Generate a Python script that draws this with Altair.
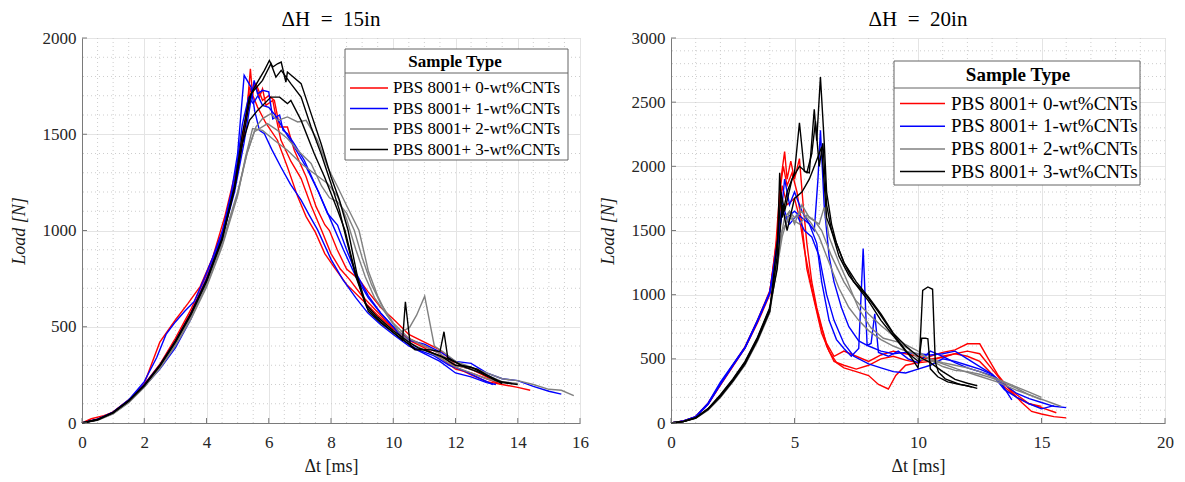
import altair as alt
import pandas as pd

FONT = "Liberation Serif"
SAMPLES = ["PBS 8001+ 0-wt%CNTs", "PBS 8001+ 1-wt%CNTs",
           "PBS 8001+ 2-wt%CNTs", "PBS 8001+ 3-wt%CNTs"]
COLORS = ["#ff0000", "#0000ff", "#808080", "#000000"]

# ---------------- Left panel (dH = 15 in) ----------------
L_R1_T = [0, 0.3, 0.7, 1.0, 1.5, 2.0, 2.5, 3.0, 3.4, 3.8, 4.2, 4.6, 5.0, 5.3, 5.41, 5.48, 5.55, 5.7, 5.8, 5.91,
          6.13, 6.23, 6.39, 6.71, 7.04, 7.36, 7.7, 8.0, 8.3, 8.6, 9.0, 9.5, 10.0, 10.5, 11.0, 11.5, 12.0, 12.5,
          13.0, 13.5, 14.0, 14.4]
L_R1_Y = [0, 22, 38, 55, 118, 205, 420, 535, 620, 710, 860, 1080, 1350, 1620, 1840, 1700, 1763, 1693, 1736, 1650,
          1676, 1590, 1470, 1360, 1270, 1130, 1000, 880, 800, 745, 660, 575, 490, 430, 390, 340, 280, 260,
          230, 200, 185, 170]
L_R2_T = [0, 0.5, 1.0, 1.5, 2.0, 2.5, 3.0, 3.5, 4.0, 4.5, 4.9, 5.2, 5.4, 5.59, 5.8, 6.0, 6.18, 6.35, 6.6, 6.82,
          7.2, 7.52, 7.8, 7.95, 8.2, 8.5, 8.9, 9.2, 9.6, 10.0, 10.5, 11.0, 11.5, 12.0, 12.5, 13.0, 13.3]
L_R2_Y = [0, 20, 58, 120, 200, 305, 440, 590, 770, 990, 1250, 1500, 1720, 1763, 1676, 1700, 1676, 1538, 1538, 1417,
          1279, 1124, 1030, 1000, 900, 800, 745, 680, 600, 540, 460, 420, 380, 300, 280, 240, 210]
L_R3_T = [0, 0.5, 1.0, 1.5, 2.0, 2.5, 3.0, 3.5, 4.0, 4.5, 4.9, 5.2, 5.38, 5.64, 5.9, 6.28, 6.6, 6.93, 7.2, 7.5,
          7.8, 8.1, 8.5, 9.0, 9.5, 10.0, 10.5, 11.0, 11.5, 12.0, 12.5, 13.0, 13.5]
L_R3_Y = [0, 18, 56, 118, 198, 300, 430, 575, 750, 970, 1230, 1500, 1745, 1641, 1560, 1469, 1330, 1176, 1072, 990,
          880, 810, 720, 640, 560, 490, 440, 400, 360, 290, 250, 215, 200]
L_B1_T = [0, 0.5, 1.0, 1.5, 2.0, 2.4, 2.7, 3.0, 3.3, 3.6, 3.9, 4.2, 4.52, 4.8, 5.0, 5.21, 5.43, 5.55, 5.7, 5.86,
          6.1, 6.39, 6.7, 7.04, 7.3, 7.57, 8.0, 8.38, 8.8, 9.18, 9.6, 10.0, 10.5, 11.0, 11.5, 12.0, 12.5, 13.0, 13.3]
L_B1_Y = [0, 20, 55, 120, 215, 340, 460, 525, 580, 630, 740, 860, 1003, 1200, 1400, 1806, 1745, 1620, 1520, 1503,
          1420, 1330, 1240, 1158, 1080, 1003, 850, 745, 650, 572, 510, 460, 400, 360, 320, 260, 240, 210, 200]
L_B2_T = [0, 0.5, 1.0, 1.5, 2.0, 2.5, 3.0, 3.5, 4.0, 4.5, 4.9, 5.2, 5.4, 5.53, 5.64, 5.8, 6.0, 6.13, 6.35, 6.46,
          6.6, 6.82, 7.14, 7.57, 7.89, 8.21, 8.5, 8.8, 9.2, 9.6, 10.0, 10.5, 11.0, 11.5, 12.0, 12.5, 13.0, 13.5,
          14.0, 14.5, 15.0, 15.4]
L_B2_Y = [0, 18, 55, 115, 190, 280, 390, 540, 730, 960, 1200, 1450, 1650, 1780, 1710, 1728, 1720, 1580, 1600, 1520,
          1503, 1450, 1365, 1210, 1088, 1028, 900, 780, 660, 570, 500, 430, 410, 370, 320, 310, 260, 230,
          220, 190, 165, 150]
L_B3_T = [0, 0.5, 1.0, 1.5, 2.0, 2.5, 3.0, 3.5, 4.0, 4.5, 4.9, 5.15, 5.35, 5.5, 5.65, 5.8, 6.0, 6.2, 6.5, 6.8,
          7.2, 7.6, 8.0, 8.4, 8.8, 9.2, 9.6, 10.0, 10.4, 10.8, 11.3, 11.8, 12.3, 12.8, 13.2]
L_B3_Y = [0, 18, 57, 118, 200, 300, 425, 570, 750, 975, 1250, 1550, 1690, 1660, 1700, 1650, 1640, 1600, 1520, 1440,
          1330, 1200, 1050, 900, 760, 650, 570, 500, 420, 380, 350, 300, 270, 230, 200]
L_G1_T = [0, 0.5, 1.0, 1.5, 2.0, 2.5, 3.0, 3.5, 4.0, 4.5, 5.0, 5.3, 5.59, 5.8, 6.07, 6.28, 6.6, 6.93, 7.2, 7.57,
          7.89, 8.21, 8.5, 8.9, 9.2, 9.5, 9.8, 10.2, 10.52, 10.75, 11.01, 11.32, 11.6, 12.0, 12.5, 13.0, 13.5,
          14.0, 14.5, 15.0, 15.4, 15.8]
L_G1_Y = [0, 15, 50, 110, 190, 290, 410, 555, 725, 935, 1200, 1400, 1538, 1581, 1607, 1572, 1590, 1564, 1572, 1469,
          1330, 1227, 1130, 1000, 790, 660, 560, 470, 495, 560, 659, 400, 370, 320, 290, 260, 230,
          220, 200, 175, 170, 142]
L_G2_T = [0, 0.5, 1.0, 1.5, 2.0, 2.5, 3.0, 3.5, 4.0, 4.5, 5.0, 5.3, 5.53, 5.96, 6.28, 6.6, 6.93, 7.36, 7.7, 7.95,
          8.2, 8.5, 8.75, 9.0, 9.3, 9.6, 10.0, 10.5, 11.0, 11.5, 12.0, 12.5, 13.0, 13.5, 14.0]
L_G2_Y = [0, 15, 50, 108, 188, 288, 405, 548, 715, 925, 1190, 1400, 1512, 1555, 1520, 1478, 1417, 1348, 1230, 1170,
          1150, 1090, 1000, 860, 720, 620, 520, 440, 400, 360, 300, 280, 250, 215, 205]
L_G3_T = [0, 0.5, 1.0, 1.5, 2.0, 2.5, 3.0, 3.5, 4.0, 4.5, 5.0, 5.25, 5.48, 5.8, 6.18, 6.6, 7.04, 7.46, 7.89, 8.2,
          8.5, 8.8, 9.1, 9.4, 9.8, 10.2, 10.6, 11.0, 11.5, 12.0, 12.5, 13.0, 13.5]
L_G3_Y = [0, 14, 48, 105, 185, 283, 400, 540, 705, 915, 1180, 1380, 1530, 1520, 1469, 1417, 1348, 1296, 1244, 1180,
          1060, 900, 760, 650, 560, 470, 410, 380, 340, 290, 260, 230, 210]
L_K1_T = [0, 0.5, 1.0, 1.5, 2.0, 2.5, 3.0, 3.5, 4.0, 4.5, 4.9, 5.15, 5.38, 5.6, 5.86, 6.02, 6.13, 6.28, 6.4, 6.55,
          6.6, 7.04, 7.36, 7.68, 8.0, 8.27, 8.55, 8.85, 9.2, 9.6, 10.0, 10.3, 10.39, 10.55, 10.7, 11.0, 11.5,
          12.0, 12.5, 13.0, 13.5, 14.0]
L_K1_Y = [0, 18, 55, 116, 196, 300, 425, 570, 742, 960, 1230, 1500, 1693, 1760, 1832, 1883, 1849, 1866, 1875, 1771,
          1823, 1763, 1607, 1452, 1279, 1158, 1000, 760, 580, 520, 470, 430, 630, 400, 380, 380, 350,
          300, 290, 250, 210, 200]
L_K2_T = [0, 0.5, 1.0, 1.5, 2.0, 2.5, 3.0, 3.5, 4.0, 4.5, 4.9, 5.2, 5.43, 5.8, 6.07, 6.23, 6.4, 6.71, 7.04, 7.36,
          7.68, 8.0, 8.27, 8.5, 8.8, 9.15, 9.5, 10.0, 10.5, 10.7, 11.2, 11.5, 11.63, 11.75, 12.2, 12.7, 13.2, 13.5]
L_K2_Y = [0, 17, 54, 115, 195, 298, 422, 566, 738, 955, 1220, 1500, 1710, 1780, 1866, 1797, 1832, 1763, 1693, 1538,
          1400, 1244, 1106, 950, 760, 600, 540, 470, 410, 385, 380, 370, 474, 340, 300, 280, 230, 205]
L_K3_T = [0, 0.5, 1.0, 1.5, 2.0, 2.5, 3.0, 3.5, 4.0, 4.5, 4.9, 5.15, 5.38, 5.64, 6.07, 6.35, 6.6, 6.71, 7.04, 7.46,
          7.79, 8.21, 8.45, 8.75, 9.1, 9.5, 10.0, 10.5, 10.8, 11.3, 11.8, 12.3, 12.8, 13.3, 13.8]
L_K3_Y = [0, 17, 53, 113, 193, 296, 420, 563, 735, 950, 1215, 1450, 1572, 1624, 1693, 1693, 1659, 1676, 1572, 1400,
          1279, 1106, 1000, 800, 620, 550, 480, 420, 390, 360, 330, 290, 260, 220, 205]

# ---------------- Right panel (dH = 20 in) ----------------
R_R1_T = [0, 0.5, 1.0, 1.5, 2.0, 2.5, 3.0, 3.5, 4.0, 4.3, 4.45, 4.6, 4.7, 4.85, 5.0, 5.2, 5.35, 5.5, 5.7,
          5.9, 6.1, 6.3, 6.6, 7.0, 7.5, 8.0, 8.5, 9.0, 9.5, 10.0, 10.5, 11.0, 11.5, 12.0, 12.5, 13.0, 13.5, 14.0,
          14.5, 15.0, 15.6]
R_R1_Y = [0, 15, 48, 150, 300, 445, 590, 790, 1020, 1450, 1900, 2115, 1900, 2040, 1900, 2060, 1700, 1400, 1100,
          900, 750, 600, 480, 450, 420, 450, 500, 520, 490, 470, 480, 520, 540, 560, 540, 420, 300, 220,
          150, 120, 80]
R_R2_T = [0, 0.5, 1.0, 1.5, 2.0, 2.5, 3.0, 3.5, 4.0, 4.25, 4.4, 4.55, 4.7, 4.9, 5.1, 5.3, 5.5, 5.8, 6.1,
          6.4, 6.7, 7.0, 7.5, 8.0, 8.4, 8.8, 9.1, 9.5, 10.0, 10.5, 11.0, 11.5, 12.0, 12.5, 12.85, 13.25, 13.8,
          14.2, 14.6, 15.0, 15.5, 16.0]
R_R2_Y = [0, 14, 46, 145, 295, 440, 585, 780, 1000, 1400, 1800, 2000, 1850, 1950, 1800, 1550, 1200, 950, 700,
          560, 470, 430, 400, 370, 300, 265, 370, 450, 470, 520, 550, 570, 617, 617, 500, 370, 240,
          160, 90, 70, 50, 40]
R_R3_T = [0, 0.5, 1.0, 1.5, 2.0, 2.5, 3.0, 3.5, 4.0, 4.3, 4.5, 4.7, 5.0, 5.2, 5.4, 5.7, 6.0, 6.3, 6.6,
          7.0, 7.5, 8.0, 8.5, 9.0, 9.5, 10.0, 10.5, 11.0, 11.5, 12.0, 12.5, 13.0, 13.5, 14.0, 14.5, 15.0]
R_R3_Y = [0, 16, 50, 155, 305, 450, 595, 800, 1030, 1400, 1850, 1700, 1750, 1600, 1350, 1050, 800, 620, 520,
          560, 520, 480, 530, 560, 540, 520, 500, 510, 540, 520, 480, 380, 280, 200, 150, 130]
R_B1_T = [0, 0.5, 1.0, 1.5, 2.0, 2.5, 3.0, 3.5, 4.0, 4.3, 4.5, 4.7, 5.0, 5.3, 5.6, 5.8, 5.95, 6.05, 6.2,
          6.4, 6.6, 6.9, 7.2, 7.6, 8.0, 8.5, 9.0, 9.5, 10.0, 10.5, 11.0, 11.5, 12.0, 12.5, 13.0, 13.5, 14.0,
          14.5, 15.0, 15.5, 16.0]
R_B1_Y = [0, 16, 50, 155, 318, 455, 591, 800, 1020, 1400, 1700, 1600, 1650, 1600, 1550, 1500, 1900, 2280, 1700,
          1300, 1100, 900, 750, 640, 600, 560, 540, 550, 540, 530, 540, 560, 500, 440, 380, 300, 230,
          190, 160, 130, 120]
R_B2_T = [0, 0.5, 1.0, 1.5, 2.0, 2.5, 3.0, 3.5, 4.0, 4.4, 4.6, 4.8, 5.0, 5.3, 5.6, 5.9, 6.1, 6.4, 6.7,
          7.0, 7.3, 7.6, 7.78, 7.94, 8.1, 8.25, 8.4, 8.8, 9.2, 9.6, 10.0, 10.5, 11.0, 11.5, 12.0, 12.5, 13.0,
          13.4, 13.8]
R_B2_Y = [0, 15, 48, 150, 305, 450, 590, 795, 1015, 1500, 1900, 1700, 1800, 1650, 1550, 1400, 1100, 800, 650,
          580, 520, 580, 1359, 604, 620, 850, 550, 520, 560, 500, 470, 560, 520, 470, 430, 400, 370,
          300, 180]
R_B3_T = [0, 0.5, 1.0, 1.5, 2.0, 2.5, 3.0, 3.5, 4.0, 4.3, 4.5, 4.8, 5.1, 5.4, 5.7, 6.0, 6.3, 6.6, 7.0,
          7.4, 8.0, 8.5, 9.0, 9.5, 10.0, 10.5, 11.0, 11.5, 12.0, 12.5, 13.0, 13.5, 14.0, 14.5, 15.0, 15.5]
R_B3_Y = [0, 15, 47, 145, 300, 445, 585, 790, 1010, 1350, 1650, 1550, 1620, 1500, 1450, 1300, 1000, 800, 620,
          520, 460, 430, 400, 390, 420, 450, 500, 480, 450, 420, 380, 260, 200, 150, 110, 135]
R_G1_T = [0, 0.5, 1.0, 1.5, 2.0, 2.5, 3.0, 3.5, 4.0, 4.4, 4.6, 4.8, 5.0, 5.3, 5.6, 6.0, 6.2, 6.4, 6.8,
          7.1, 7.6, 8.1, 8.6, 9.2, 9.6, 10.0, 10.8, 11.6, 12.4, 13.2, 14.0, 14.8, 15.5, 15.8]
R_G1_Y = [0, 12, 38, 105, 205, 325, 460, 645, 870, 1400, 1600, 1650, 1550, 1700, 1600, 1550, 1680, 1450, 1250,
          1120, 890, 740, 660, 630, 580, 500, 475, 420, 370, 320, 255, 200, 150, 130]
R_G2_T = [0, 0.5, 1.0, 1.5, 2.0, 2.5, 3.0, 3.5, 4.0, 4.5, 4.8, 5.2, 5.5, 5.8, 6.1, 6.5, 7.0, 7.5, 8.0,
          8.5, 9.0, 9.5, 10.0, 10.5, 11.0, 11.5, 12.0, 12.5, 13.0, 13.5, 14.0, 14.5, 15.0]
R_G2_Y = [0, 11, 36, 100, 198, 318, 452, 635, 860, 1500, 1600, 1550, 1620, 1580, 1500, 1300, 1100, 950, 850,
          760, 680, 610, 560, 490, 440, 410, 400, 380, 350, 310, 270, 220, 180]
R_G3_T = [0, 0.5, 1.0, 1.5, 2.0, 2.5, 3.0, 3.5, 4.0, 4.5, 4.8, 5.0, 5.3, 5.7, 6.0, 6.4, 6.8, 7.2, 7.6,
          8.0, 8.5, 9.0, 9.5, 10.0, 10.5, 11.0, 11.5, 12.0, 12.5, 13.0, 13.5, 14.0, 14.5, 15.0]
R_G3_Y = [0, 13, 40, 108, 210, 330, 468, 652, 880, 1450, 1650, 1600, 1650, 1550, 1450, 1250, 1050, 900, 800,
          720, 650, 600, 560, 540, 500, 470, 450, 430, 400, 360, 320, 280, 240, 200]
R_K1_T = [0, 0.5, 1.0, 1.5, 2.0, 2.5, 3.0, 3.5, 4.0, 4.3, 4.4, 4.5, 4.7, 5.0, 5.2, 5.4, 5.6, 5.8, 5.9,
          6.05, 6.2, 6.3, 6.5, 6.7, 7.0, 7.4, 7.9, 8.4, 8.95, 9.35, 9.76, 10.0, 10.15, 10.3, 10.4, 10.5, 10.8,
          11.2, 11.7, 12.0, 12.4]
R_K1_Y = [0, 12, 40, 110, 215, 335, 474, 660, 890, 1300, 1950, 1600, 1800, 1950, 2340, 1960, 1950, 2445, 2200,
          2696, 2200, 1800, 1550, 1400, 1250, 1100, 995, 865, 708, 604, 500, 430, 660, 661, 656, 422, 360,
          320, 300, 290, 270]
R_K2_T = [0, 0.5, 1.0, 1.5, 2.0, 2.5, 3.0, 3.5, 4.0, 4.35, 4.45, 4.6, 4.9, 5.2, 5.5, 5.7, 5.85, 6.0, 6.15,
          6.3, 6.5, 6.8, 7.2, 7.6, 8.0, 8.5, 9.0, 9.5, 10.05, 10.19, 10.4, 10.59, 10.7, 10.83, 11.1, 11.64, 12.18]
R_K2_Y = [0, 11, 38, 105, 205, 325, 460, 645, 870, 1500, 1800, 1650, 1900, 2000, 1950, 2100, 2350, 2000, 2180,
          1700, 1500, 1300, 1150, 1050, 950, 800, 680, 560, 474, 1034, 1060, 1042, 474, 396, 344, 305, 279]
R_K3_T = [0, 0.5, 1.0, 1.5, 2.0, 2.5, 3.0, 3.5, 4.0, 4.3, 4.5, 4.7, 5.0, 5.3, 5.6, 5.9, 6.1, 6.3, 6.6,
          7.0, 7.5, 8.0, 8.5, 9.0, 9.5, 10.0, 10.5, 11.0, 11.5, 12.0, 12.4]
R_K3_Y = [0, 12, 41, 112, 220, 342, 480, 668, 900, 1200, 1700, 1500, 1750, 1800, 1900, 2050, 2150, 1600, 1450,
          1250, 1100, 980, 850, 700, 600, 520, 470, 400, 340, 310, 290]

LEFT_CURVES = [("R1", 0, L_R1_T, L_R1_Y), ("R2", 0, L_R2_T, L_R2_Y), ("R3", 0, L_R3_T, L_R3_Y),
               ("B1", 1, L_B1_T, L_B1_Y), ("B2", 1, L_B2_T, L_B2_Y), ("B3", 1, L_B3_T, L_B3_Y),
               ("G1", 2, L_G1_T, L_G1_Y), ("G2", 2, L_G2_T, L_G2_Y), ("G3", 2, L_G3_T, L_G3_Y),
               ("K1", 3, L_K1_T, L_K1_Y), ("K2", 3, L_K2_T, L_K2_Y), ("K3", 3, L_K3_T, L_K3_Y)]
RIGHT_CURVES = [("R1", 0, R_R1_T, R_R1_Y), ("R2", 0, R_R2_T, R_R2_Y), ("R3", 0, R_R3_T, R_R3_Y),
                ("B1", 1, R_B1_T, R_B1_Y), ("B2", 1, R_B2_T, R_B2_Y), ("B3", 1, R_B3_T, R_B3_Y),
                ("G1", 2, R_G1_T, R_G1_Y), ("G2", 2, R_G2_T, R_G2_Y), ("G3", 2, R_G3_T, R_G3_Y),
                ("K1", 3, R_K1_T, R_K1_Y), ("K2", 3, R_K2_T, R_K2_Y), ("K3", 3, R_K3_T, R_K3_Y)]

L_XMAJOR = [0, 2, 4, 6, 8, 10, 12, 14, 16]
L_YMAJOR = [0, 500, 1000, 1500, 2000]
R_XMAJOR = [0, 5, 10, 15, 20]
R_YMAJOR = [0, 500, 1000, 1500, 2000, 2500, 3000]
L_XMINOR = [i * 0.5 for i in range(1, 32) if i % 4]
L_YMINOR = [v for v in range(100, 2000, 100) if v % 500]
R_XMINOR = [v for v in range(1, 20) if v % 5]
R_YMINOR = [v for v in range(100, 3000, 100) if v % 500]


def build_df(curves):
    rows = []
    for name, s, ts, ys in curves:
        assert len(ts) == len(ys), name
        for i, (t, y) in enumerate(zip(ts, ys)):
            rows.append({"curve": name, "sample": SAMPLES[s], "t": t, "load": y, "idx": i})
    return pd.DataFrame(rows)


AX_COLOR = "#7a7a7a"
MINOR_COLOR = "#cdcdcd"
BOX_STROKE = "#646464"
SYM_SIZE = 100  # sqrt -> 10 px, keeps legend rows compact


def panel(curves, title, xmax, xmajor, xminor, ymax, ymajor, yminor, W, H, leg):
    xs = alt.Scale(domain=[0, xmax], nice=False)
    ys = alt.Scale(domain=[0, ymax], nice=False)
    common = dict(ticks=False, grid=True, gridColor="#e4e4e4", format="d",
                  labelFont=FONT, titleFont=FONT, labelFontSize=17, titleFontSize=18,
                  titleFontWeight="normal", labelColor="#262626", titleColor="#1a1a1a",
                  domainColor=AX_COLOR)
    xaxis = alt.Axis(title="Δt [ms]", values=xmajor, labelFlush=False, labelPadding=11, titlePadding=7,
                     **common)
    yaxis = alt.Axis(title="Load [N]", values=ymajor, titleFontStyle="italic", labelPadding=6,
                     titlePadding=6, minExtent=48, maxExtent=48, **common)
    X = alt.X("t:Q", scale=xs, axis=xaxis)
    Y = alt.Y("load:Q", scale=ys, axis=yaxis)
    minor_x = alt.Chart(pd.DataFrame({"t": xminor})).mark_rule(
        color=MINOR_COLOR, strokeDash=[1, 3], strokeWidth=1).encode(x=X)
    minor_y = alt.Chart(pd.DataFrame({"load": yminor})).mark_rule(
        color=MINOR_COLOR, strokeDash=[1, 3], strokeWidth=1).encode(y=Y)
    half = leg["sym"] / 2.0
    scale_unit = (SYM_SIZE ** 0.5) / 2.0
    path = "M%.3f,0H%.3f" % (-half / scale_unit, half / scale_unit)
    legend = alt.Legend(orient="none", legendX=leg["x"], legendY=leg["y"], title="Sample Type",
                        titleFont=FONT, titleFontSize=leg["fs"], titleFontWeight="bold", titleColor="black",
                        titleAnchor="middle", titlePadding=leg["tp"], labelFont=FONT, labelFontSize=leg["fs"],
                        labelColor="black", symbolType=path, symbolSize=SYM_SIZE,
                        symbolOffset=half - 8.5, labelOffset=half - 3.5,
                        symbolStrokeWidth=1.5, rowPadding=leg["rp"], padding=5, labelLimit=400)
    lines = alt.Chart(build_df(curves)).mark_line(strokeWidth=1.4).encode(
        x=X, y=Y,
        color=alt.Color("sample:N", scale=alt.Scale(domain=SAMPLES, range=COLORS), legend=legend),
        detail="curve:N", order="idx:Q")
    one = alt.Data(values=[{"a": 1}])
    box = alt.Chart(one).mark_rect(fill="white", stroke=BOX_STROKE, strokeWidth=1).encode(
        x=alt.value(leg["x"]), x2=alt.value(leg["x"] + leg["w"]),
        y=alt.value(leg["y"]), y2=alt.value(leg["y"] + leg["h"]))
    sep = alt.Chart(one).mark_rule(color=BOX_STROKE, strokeWidth=1).encode(
        x=alt.value(leg["x"]), x2=alt.value(leg["x"] + leg["w"]), y=alt.value(leg["y"] + leg["sep"]))
    xt = alt.Chart(pd.DataFrame({"t": xmajor})).mark_rule(color=AX_COLOR).encode(
        x=X, y=alt.value(H), y2=alt.value(H - 5))
    yt = alt.Chart(pd.DataFrame({"load": ymajor})).mark_rule(color=AX_COLOR).encode(
        y=Y, x=alt.value(0), x2=alt.value(5))
    return alt.layer(minor_x, minor_y, lines, box, sep, xt, yt).properties(
        width=W, height=H,
        title=alt.TitleParams(title, font=FONT, fontSize=21, fontWeight="normal", color="black", offset=-1))


left = panel(LEFT_CURVES, "ΔH\u2002=\u200215in", 16, L_XMAJOR, L_XMINOR, 2000, L_YMAJOR, L_YMINOR, 498, 385,
             {"x": 263, "y": 11, "w": 223, "h": 111, "sep": 24, "fs": 17, "tp": 8.5, "rp": 2.5, "sym": 38})
right = panel(RIGHT_CURVES, "ΔH\u2002=\u200220in", 20, R_XMAJOR, R_XMINOR, 3000, R_YMAJOR, R_YMINOR, 494, 385,
              {"x": 223, "y": 23, "w": 246, "h": 124, "sep": 27, "fs": 19, "tp": 9, "rp": 2.7, "sym": 45})

chart = alt.hconcat(left, right, spacing=9).resolve_scale(
    x="independent", y="independent", color="independent").resolve_legend(color="independent").properties(
    padding={"left": 9, "top": 8, "right": 0, "bottom": 0}
).configure(font=FONT).configure_view(stroke="#c8c8c8")

chart.save("out.html", embed_options={"renderer": "svg", "actions": False})
